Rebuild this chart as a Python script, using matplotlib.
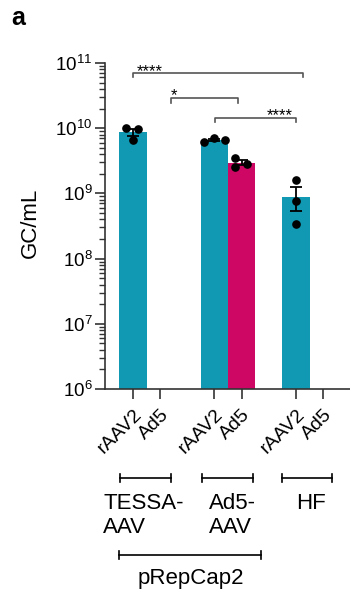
import numpy as np
import matplotlib
matplotlib.use('Agg')
import matplotlib.pyplot as plt
from matplotlib import ticker
from matplotlib.transforms import blended_transform_factory

plt.rcParams['font.family'] = ['Liberation Sans', 'DejaVu Sans']

# replicate titers, GC/mL
tessa_rAAV2 = [9.96e9, 9.6e9, 6.6e9]
tessa_Ad5 = []
ad5aav_rAAV2 = [6.1e9, 7.2e9, 6.5e9]
ad5aav_Ad5 = [3.45e9, 2.54e9, 2.86e9]
hf_rAAV2 = [1.58e9, 7.6e8, 3.4e8]
hf_Ad5 = []

tick_labels = ['rAAV2', 'Ad5', 'rAAV2', 'Ad5', 'rAAV2', 'Ad5']
group_labels = ['TESSA-\nAAV', 'Ad5-\nAAV', 'HF']
outer_label = 'pRepCap2'
sig_labels = ['****', '*', '****']

W, H = 350, 601
TEAL = '#1199b4'
MAGENTA = '#cd0763'
LINE = '#333333'


def fy(py):
    # pixel row (from top) -> figure fraction
    return 1 - py / H


fig = plt.figure(figsize=(W / 100, H / 100), dpi=100)
ax = fig.add_axes([105 / W, fy(389), 245 / W, (389 - 63) / H])

x_pos = [0, 1, 3, 4, 6, 7]
series = [tessa_rAAV2, tessa_Ad5, ad5aav_rAAV2, ad5aav_Ad5, hf_rAAV2, hf_Ad5]
colors = [TEAL, MAGENTA, TEAL, MAGENTA, TEAL, MAGENTA]
jitter = [[-0.24, 0.2, 0], [], [-0.4, 0, 0.39], [-0.23, -0.23, 0.2], [0, 0, 0], []]

ax.set_yscale('log')
for x, vals, c, jit in zip(x_pos, series, colors, jitter):
    if not vals:
        continue
    v = np.array(vals)
    m = v.mean()
    sem = v.std(ddof=1) / np.sqrt(len(v))
    ax.bar(x, m, width=1.0, color=c, zorder=1)
    ax.errorbar(x, m, yerr=sem, color='black', capsize=4, elinewidth=1.3,
                capthick=1.3, zorder=2)
    ax.plot(np.array(jit) + x, v, 'o', color='black', ms=5.2, zorder=3)

ax.set_xlim(-1.03, 7.99)
ax.set_ylim(1e6, 1e11)

ax.yaxis.set_major_locator(ticker.LogLocator(base=10, numticks=10))
ax.yaxis.set_major_formatter(ticker.FuncFormatter(
    lambda v, _: '$\\mathregular{10^{%d}}$' % int(round(np.log10(v)))))
ax.yaxis.set_minor_locator(ticker.LogLocator(base=10, subs=np.arange(2, 10), numticks=12))
ax.yaxis.set_minor_formatter(ticker.NullFormatter())
ax.tick_params(axis='y', which='major', length=7, width=1.2, color=LINE, labelsize=13.5, pad=2)
ax.tick_params(axis='y', which='minor', length=4, width=1.0, color=LINE)

ax.set_xticks(x_pos)
ax.set_xticklabels(tick_labels, rotation=45, ha='right', rotation_mode='anchor', fontsize=14)
ax.tick_params(axis='x', length=7, width=1.2, color=LINE, pad=5)

for s in ['top', 'right']:
    ax.spines[s].set_visible(False)
for s in ['left', 'bottom']:
    ax.spines[s].set_color(LINE)
    ax.spines[s].set_linewidth(1.2)

ax.set_ylabel('GC/mL', fontsize=16, va='center')
ax.yaxis.set_label_coords(-0.306, 0.51)

# significance brackets: (x0, x1, level in log10, text x, text baseline log10)
brackets = [(0, 6.26, 10.847, 0.63, 10.80),
            (1.39, 3.87, 10.459, 1.5, 10.43),
            (3.02, 6.02, 10.161, 5.4, 10.13)]
drop = 0.065
for (x0, x1, lev, tx, ty), lab in zip(brackets, sig_labels):
    y = 10 ** lev
    yd = 10 ** (lev - drop)
    ax.plot([x0, x0, x1, x1], [yd, y, y, yd], color='#555555', lw=1.2, clip_on=False)
    ax.text(tx, 10 ** ty, lab, ha='center', va='baseline', fontsize=12, clip_on=False)

# group brackets under the axis
blend = blended_transform_factory(ax.transData, fig.transFigure)
cap = 4 / H


def hbracket(x0, x1, py):
    y = fy(py)
    ax.plot([x0, x1], [y, y], color='black', lw=1.2, transform=blend, clip_on=False)
    for xx in (x0, x1):
        ax.plot([xx, xx], [y - cap, y + cap], color='black', lw=1.2, transform=blend, clip_on=False)


group_spans = [(-0.48, 1.40), (2.53, 4.42), (5.47, 7.32)]
group_text_x = [-1.10, 2.80, 6.55]
group_text_ha = ['left', 'left', 'center']
for (x0, x1), lab, tx, ha in zip(group_spans, group_labels, group_text_x, group_text_ha):
    hbracket(x0, x1, 478)
    ax.text(tx, fy(493), lab, ha=ha, va='top', fontsize=16, linespacing=1.2,
            multialignment='left', transform=blend)

hbracket(-0.52, 4.71, 555)
ax.text(2.13, fy(584), outer_label, ha='center', va='baseline', fontsize=16, transform=blend)

fig.text(11 / W, fy(25), 'a', fontsize=18, fontweight='bold', va='baseline')

fig.savefig('out.png', dpi=100)
